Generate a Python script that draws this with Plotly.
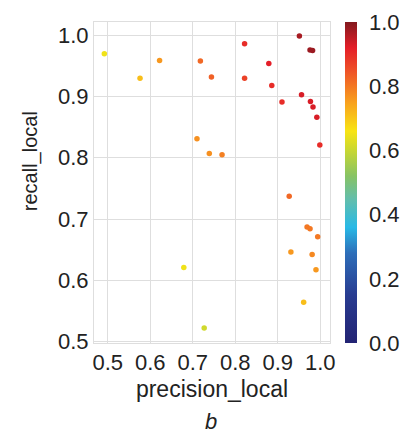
import plotly.graph_objects as go

precision = [0.492, 0.576, 0.622, 0.718, 0.744, 0.822, 0.822, 0.710, 0.739, 0.769,
             0.951, 0.976, 0.982, 0.879, 0.886, 0.910, 0.956, 0.977, 0.983, 0.992,
             0.999, 0.679, 0.727, 0.927, 0.969, 0.976, 0.994, 0.931, 0.981, 0.990, 0.961]
recall = [0.970, 0.930, 0.959, 0.958, 0.932, 0.986, 0.930, 0.831, 0.807, 0.805,
          0.999, 0.976, 0.975, 0.954, 0.918, 0.891, 0.903, 0.892, 0.883, 0.866,
          0.821, 0.621, 0.522, 0.737, 0.687, 0.684, 0.671, 0.646, 0.642, 0.617, 0.564]
score = [0.65, 0.71, 0.76, 0.82, 0.83, 0.90, 0.87, 0.77, 0.77, 0.79,
         0.97, 0.98, 0.98, 0.92, 0.90, 0.90, 0.93, 0.93, 0.93, 0.93,
         0.90, 0.65, 0.61, 0.82, 0.80, 0.80, 0.80, 0.76, 0.78, 0.76, 0.71]
tick_vals = [0.5, 0.6, 0.7, 0.8, 0.9, 1.0]
cbar_vals = [0.0, 0.2, 0.4, 0.6, 0.8, 1.0]

cscale = [
    [0.0, "rgb(35,35,115)"],
    [0.15, "rgb(40,60,145)"],
    [0.28, "rgb(45,110,185)"],
    [0.36, "rgb(40,185,230)"],
    [0.45, "rgb(100,190,170)"],
    [0.52, "rgb(135,195,100)"],
    [0.60, "rgb(200,215,50)"],
    [0.66, "rgb(248,228,20)"],
    [0.75, "rgb(248,160,30)"],
    [0.85, "rgb(238,80,40)"],
    [0.92, "rgb(228,30,40)"],
    [1.0, "rgb(130,25,30)"],
]

FONT = "Liberation Sans, Arial, sans-serif"
TXT = "#222"

fig = go.Figure(go.Scatter(
    x=precision, y=recall, mode="markers",
    marker=dict(size=5.5, color=score, colorscale=cscale, cmin=0, cmax=1,
                line=dict(width=0),
                colorbar=dict(thickness=12, len=1, lenmode="fraction", x=1.065, xanchor="left",
                              y=0.5, yanchor="middle", outlinewidth=0, xpad=0, ypad=0,
                              tickvals=cbar_vals, ticktext=[f"{v:.1f}" for v in cbar_vals],
                              ticks="outside", ticklen=8, tickcolor="rgba(0,0,0,0)",
                              tickfont=dict(size=22, color=TXT, family=FONT))),
    showlegend=False,
))

axis_common = dict(showgrid=True, gridcolor="#dedede", gridwidth=1, zeroline=False,
                   showline=True, linecolor="#dedede", linewidth=1, mirror=True,
                   ticks="", tickfont=dict(size=22, color=TXT, family=FONT),
                   tickvals=tick_vals, ticktext=[f"{v:.1f}" for v in tick_vals])

fig.update_layout(
    width=412, height=436,
    margin=dict(l=94, r=77, t=22, b=93),
    paper_bgcolor="white", plot_bgcolor="white",
    font=dict(family=FONT, color=TXT),
    xaxis=dict(range=[0.4677, 1.023],
               title=dict(text="precision_local", font=dict(size=23, family=FONT, color=TXT), standoff=6),
               **axis_common),
    yaxis=dict(range=[0.4976, 1.0217], **axis_common),
    annotations=[
        dict(text="recall_local", textangle=-90, x=-0.266, y=0.567, xref="paper", yref="paper",
             showarrow=False, xanchor="center", yanchor="middle",
             font=dict(size=20, family=FONT, color=TXT)),
        dict(text="<i>b</i>", x=0.494, y=-0.2897, xref="paper", yref="paper",
             showarrow=False, xanchor="center", yanchor="bottom",
             font=dict(size=22, family=FONT, color=TXT)),
    ],
)

fig.write_html("out.html")
